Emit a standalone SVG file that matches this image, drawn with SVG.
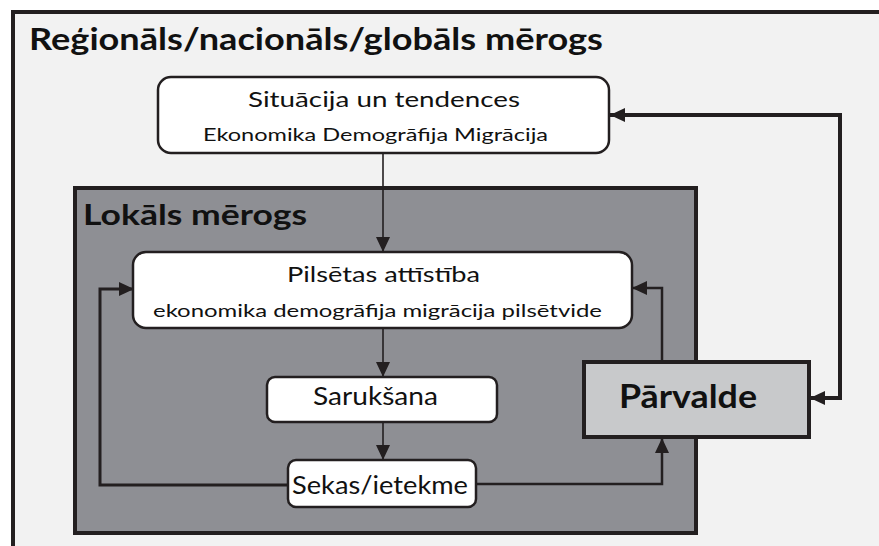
<svg xmlns="http://www.w3.org/2000/svg" width="879" height="546" viewBox="0 0 879 546">
<style>
.box{fill:#ffffff;stroke:#231f20;stroke-width:2.5}
.t{font-family:Lato,"Open Sans","Liberation Sans",sans-serif;fill:#111111}
.main{font-size:22px}
.big{font-size:25px}
.sub{font-size:17px}
.ln{fill:none;stroke:#231f20;stroke-linejoin:miter}
</style>
<defs>
<marker id="ah" markerUnits="userSpaceOnUse" markerWidth="16" markerHeight="14" refX="15" refY="7" orient="auto">
<path d="M0,0 L15,7 L0,14 Z" fill="#231f20"/>
</marker>
</defs>
<rect x="0" y="0" width="879" height="546" fill="#ffffff"/>
<g id="regional-frame">
<rect x="13" y="12" width="900" height="600" fill="#f2f2f2" stroke="#231f20" stroke-width="4"/>
<text class="t" x="29" y="50" font-size="30" font-weight="bold" textLength="574" lengthAdjust="spacingAndGlyphs">Reģionāls/nacionāls/globāls mērogs</text>
</g>
<g id="local-frame">
<rect x="75" y="188" width="621" height="345" fill="#8e8f94" stroke="#231f20" stroke-width="4"/>
<text class="t" x="83" y="225" font-size="29" font-weight="bold" textLength="224" lengthAdjust="spacingAndGlyphs">Lokāls mērogs</text>
</g>
<g id="connectors">
<path class="ln" d="M383,154 L383,252" stroke-width="1.6" marker-end="url(#ah)"/>
<path class="ln" d="M383,328 L383,377" stroke-width="1.6" marker-end="url(#ah)"/>
<path class="ln" d="M383,422 L383,460" stroke-width="1.6" marker-end="url(#ah)"/>
<path class="ln" d="M288,485 L100,485 L100,289 L134,289" stroke-width="3" marker-end="url(#ah)"/>
<path class="ln" d="M476,484 L662,484 L662,438" stroke-width="2.5" marker-end="url(#ah)"/>
<path class="ln" d="M662,361 L662,288 L632,288" stroke-width="2.5" marker-end="url(#ah)"/>
<path class="ln" d="M810,398 L840,398 L840,115 L610,115" stroke-width="4" marker-end="url(#ah)"/>
<path class="ln" d="M840,398 L810,398" stroke-width="4" marker-end="url(#ah)"/>
</g>
<g id="situacija">
<rect class="box" x="158" y="77" width="451" height="76" rx="13"/>
<text class="t main" x="384" y="107" text-anchor="middle" textLength="272" lengthAdjust="spacingAndGlyphs">Situācija un tendences</text>
<text class="t sub" x="375.5" y="141" text-anchor="middle" textLength="345" lengthAdjust="spacingAndGlyphs">Ekonomika Demogrāfija Migrācija</text>
</g>
<g id="pilsetas">
<rect class="box" x="133" y="252" width="499" height="76" rx="13"/>
<text class="t main" x="383.5" y="282" text-anchor="middle" textLength="193" lengthAdjust="spacingAndGlyphs">Pilsētas attīstība</text>
<text class="t sub" x="377.5" y="317" text-anchor="middle" textLength="449" lengthAdjust="spacingAndGlyphs">ekonomika demogrāfija migrācija pilsētvide</text>
</g>
<g id="saruksana">
<rect class="box" x="267" y="377" width="230" height="45" rx="8"/>
<text class="t big" x="375.5" y="405" text-anchor="middle" textLength="125" lengthAdjust="spacingAndGlyphs">Sarukšana</text>
</g>
<g id="sekas">
<rect class="box" x="288" y="460" width="188" height="47" rx="8"/>
<text class="t big" x="380" y="494" text-anchor="middle" textLength="176" lengthAdjust="spacingAndGlyphs">Sekas/ietekme</text>
</g>
<g id="parvalde">
<rect x="584" y="362" width="225" height="75" fill="#c8c9cb" stroke="#231f20" stroke-width="4"/>
<text class="t" x="688" y="408" font-size="32" font-weight="bold" text-anchor="middle" textLength="138" lengthAdjust="spacingAndGlyphs">Pārvalde</text>
</g>
</svg>
